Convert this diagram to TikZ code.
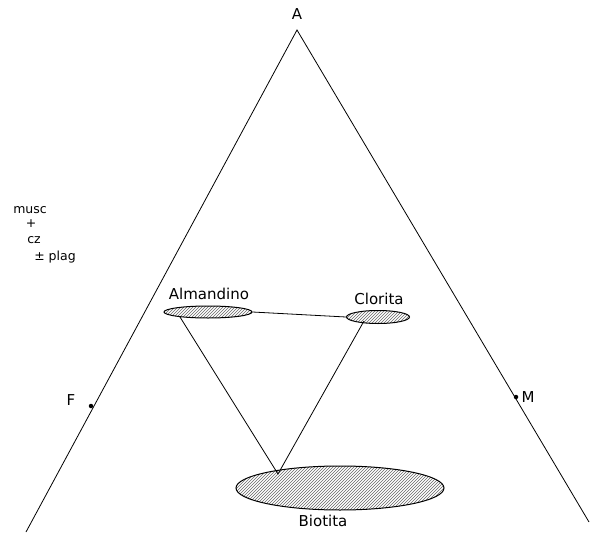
\documentclass[tikz,border=0pt]{standalone}
\usepackage{fontspec}
\setmainfont{DejaVu Sans}
\usetikzlibrary{patterns,shapes.geometric}

\begin{document}
\begin{tikzpicture}[x=1pt,y=-1pt,line width=.8pt,
  phase/.style={draw,line width=1pt,ellipse,pattern=north east lines,pattern color=black!60,inner sep=0pt},
  lab/.style={font=\fontsize{15}{17}\selectfont,inner sep=1pt},
  vtx/.style={circle,fill,inner sep=0pt,minimum size=4.5pt}]
\useasboundingbox (0,0) rectangle (595,533);
% triangle sides
\node[lab] (lA) at (297,14) {A};
\coordinate (A) at (297,30);
\coordinate (Lend) at (26,532);
\coordinate (Rend) at (589,522);
\draw (Lend) -- (A) -- (Rend);
\node[vtx] (F) at (91,406) {};
\node[vtx] (M) at (516,397) {};
\node[lab] (lF) at (71,400) {F};
\node[lab] (lM) at (528,397) {M};
% left note
\node[lab,font=\fontsize{12.5}{14}\selectfont] (musc) at (30,210) {musc};
\node[lab,font=\fontsize{12.5}{14}\selectfont] (plus) at (31,224) {+};
\node[lab,font=\fontsize{12.5}{14}\selectfont] (cz) at (34,240) {cz};
\node[lab,font=\fontsize{12.5}{14}\selectfont] (plag) at (55,257) {± plag};
% phases
\node[phase,minimum width=88pt,minimum height=12pt] (alm) at (208,312) {};
\node[phase,minimum width=63pt,minimum height=13pt] (clo) at (378,317) {};
\node[phase,minimum width=208pt,minimum height=44pt] (bio) at (340,488) {};
\node[lab] (lalm) at (209,294) {Almandino};
\node[lab] (lclo) at (379,299) {Clorita};
\node[lab] (lbio) at (323,521) {Biotita};
% tie lines
\coordinate (a1) at (180,317);
\coordinate (c1) at (364,321);
\coordinate (join) at (278,474);
\draw (alm.east) -- (clo.west);
\draw (a1) -- (join) -- (c1);
\end{tikzpicture}
\end{document}
